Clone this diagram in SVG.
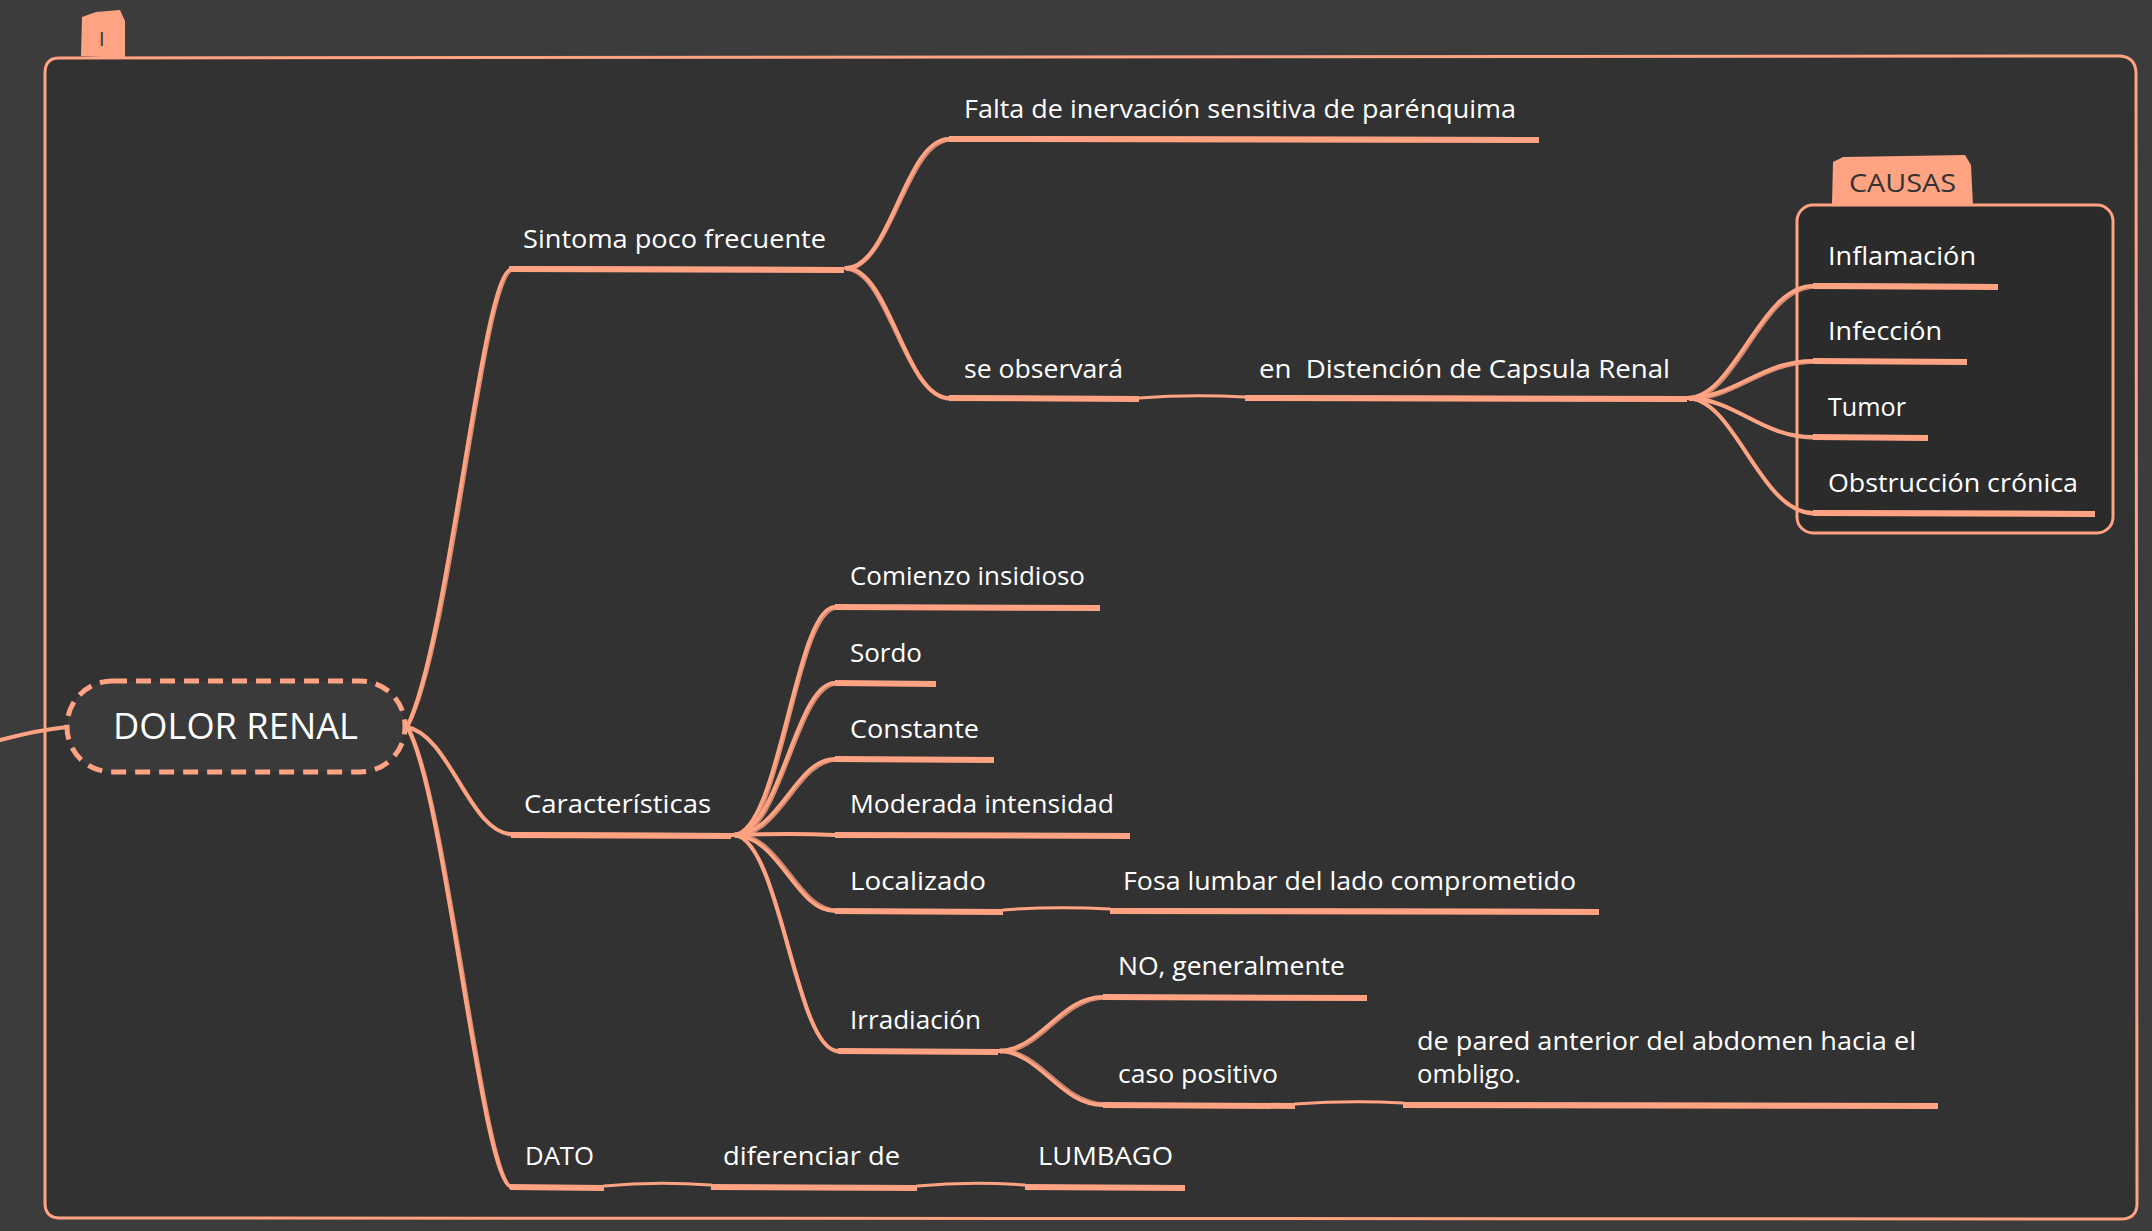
<svg xmlns="http://www.w3.org/2000/svg" width="2152" height="1231" viewBox="0 0 2152 1231">
<defs>
<style>
.lbl{font-family:"Open Sans","Liberation Sans",sans-serif;font-size:25px;fill:#ffffff;}
.ul{fill:none;stroke:#ffa383;stroke-width:6;stroke-linecap:butt;}
.ul2{fill:none;stroke:#ffa383;stroke-width:2;opacity:0.8;}
.cn{fill:none;stroke:#ffa383;stroke-width:4;stroke-linecap:round;}
.cn2{fill:none;stroke:#ffa383;stroke-width:1.5;opacity:0.8;}
.thin{fill:none;stroke:#ffa383;stroke-width:3;stroke-linecap:round;}
</style>
</defs>
<rect x="0" y="0" width="2152" height="1231" fill="#3c3c3c"/>
<g id="frame">
<path d="M59,58 L2120,56 Q2135,57 2136,72 L2137,1205 Q2136,1219 2121,1219 L60,1218 Q45,1218 45,1203 L45,73 Q45,58 59,58 Z" fill="#323232" stroke="#ffa383" stroke-width="3"/>
<path d="M82,17 L96,12 L120,10 L125,21 L125,58 L81,56 Z" fill="#ffa383"/>
<text x="99" y="46" font-family="Open Sans, Liberation Sans, sans-serif" font-size="20" fill="#333333">I</text>
</g>
<g id="n-causas">
<rect x="1797" y="205" width="316" height="328" rx="16" ry="16" fill="#2b2b2b" stroke="#ffa383" stroke-width="3"/>
<path d="M1833,162 L1843,157 L1965,155 L1971,165 L1973,206 L1832,204 Z" fill="#ffa383"/>
<text x="1849" y="192" font-family="Open Sans, Liberation Sans, sans-serif" font-size="26" fill="#333333" textLength="107" lengthAdjust="spacingAndGlyphs">CAUSAS</text>
</g>
<g id="connectors">
<path class="cn" d="M0,740 Q38,730 67,727"/>
<!-- root branches -->
<path class="cn" d="M407,727 C450,640 482,269 512,269"/>
<path class="cn2" d="M409,726 C453,642 484,271 514,270"/>
<path class="cn" d="M407,727 C450,735 470,834 512,834"/>
<path class="cn2" d="M408,729 C453,738 473,836 514,836"/>
<path class="cn" d="M407,727 C445,790 482,1187 512,1187"/>
<path class="cn2" d="M409,728 C448,792 485,1189 514,1188"/>
<!-- sintoma -->
<path class="ul" d="M509,269 L844,270"/>
<path class="ul2" d="M511,267 L840,268"/>
<path class="cn" d="M846,268 C890,268 905,139 949,139"/>
<path class="cn2" d="M846,270 C892,270 907,141 951,141"/>
<path class="cn" d="M846,268 C890,268 905,398 949,398"/>
<path class="cn2" d="M846,270 C888,272 903,400 951,400"/>
<path class="ul" d="M949,139 L1539,140"/>
<path class="ul2" d="M951,137 L1535,138"/>
<path class="ul" d="M949,398 L1139,399"/>
<path class="thin" d="M1139,398 Q1190,394 1245,397"/>
<path class="ul" d="M1245,398 L1687,399"/>
<path class="ul2" d="M1247,396 L1683,397"/>
<!-- causas -->
<path class="cn" d="M1687,398 C1735,398 1760,286 1813,286"/>
<path class="cn2" d="M1689,400 C1737,400 1762,288 1815,288"/>
<path class="cn" d="M1687,398 C1735,398 1760,361 1813,361"/>
<path class="cn2" d="M1689,400 C1737,400 1762,363 1815,363"/>
<path class="cn" d="M1687,398 C1735,398 1760,437 1813,437"/>
<path class="cn2" d="M1689,400 C1737,400 1762,439 1815,439"/>
<path class="cn" d="M1687,398 C1735,398 1760,513 1813,513"/>
<path class="cn2" d="M1689,400 C1737,400 1762,515 1815,515"/>
<path class="ul" d="M1813,286 L1998,287"/>
<path class="ul2" d="M1815,284 L1994,285"/>
<path class="ul" d="M1813,361 L1967,362"/>
<path class="ul" d="M1813,437 L1928,438"/>
<path class="ul" d="M1813,513 L2095,514"/>
<path class="ul2" d="M1815,511 L2091,512"/>
<!-- caracteristicas -->
<path class="ul" d="M511,835 L731,836"/>
<path class="ul2" d="M513,833 L727,834"/>
<path class="cn" d="M733,835 C780,835 795,607 835,607"/>
<path class="cn2" d="M735,837 C782,837 797,609 837,609"/>
<path class="cn" d="M733,835 C780,835 795,683 835,683"/>
<path class="cn2" d="M735,837 C782,837 797,685 837,685"/>
<path class="cn" d="M733,835 C780,835 795,759 835,759"/>
<path class="cn2" d="M735,837 C782,837 797,761 837,761"/>
<path class="cn" d="M733,835 Q790,833 835,835"/>
<path class="cn" d="M733,835 C780,835 795,911 835,911"/>
<path class="cn2" d="M735,833 C782,833 797,909 837,909"/>
<path class="cn" d="M733,835 C780,835 795,1051 838,1051"/>
<path class="cn2" d="M735,837 C782,837 797,1053 840,1053"/>
<path class="ul" d="M835,607 L1100,608"/>
<path class="ul" d="M835,683 L936,684"/>
<path class="ul" d="M835,759 L994,760"/>
<path class="ul" d="M835,835 L1130,836"/>
<path class="ul" d="M835,911 L1003,912"/>
<path class="thin" d="M1003,910 Q1055,906 1110,909"/>
<path class="ul" d="M1110,911 L1599,912"/>
<path class="ul2" d="M1112,909 L1595,910"/>
<!-- irradiacion -->
<path class="ul" d="M838,1051 L998,1052"/>
<path class="cn" d="M998,1051 C1040,1051 1060,997 1103,997"/>
<path class="cn2" d="M1000,1053 C1042,1053 1062,999 1105,999"/>
<path class="cn" d="M998,1051 C1040,1051 1060,1105 1103,1105"/>
<path class="cn2" d="M1000,1049 C1042,1049 1062,1103 1105,1103"/>
<path class="ul" d="M1103,997 L1367,998"/>
<path class="ul" d="M1103,1105 L1295,1106"/>
<path class="thin" d="M1295,1104 Q1350,1100 1403,1103"/>
<path class="ul" d="M1403,1105 L1938,1106"/>
<path class="ul2" d="M1405,1103 L1934,1104"/>
<!-- dato -->
<path class="ul" d="M510,1187 L604,1188"/>
<path class="thin" d="M604,1186 Q655,1181 711,1185"/>
<path class="ul" d="M711,1187 L917,1188"/>
<path class="thin" d="M917,1186 Q970,1181 1025,1185"/>
<path class="ul" d="M1025,1187 L1185,1188"/>
</g>
<g id="root">
<rect x="67" y="681" width="338" height="91" rx="45" ry="45" fill="#3a3a3a" stroke="#ffa383" stroke-width="5" stroke-dasharray="15 9"/>
<text x="113" y="739" font-family="Open Sans, Liberation Sans, sans-serif" font-size="36" fill="#ffffff" textLength="245" lengthAdjust="spacingAndGlyphs">DOLOR RENAL</text>
</g>
<g id="n-sintoma"><text class="lbl" x="523" y="248" textLength="303" lengthAdjust="spacingAndGlyphs">Sintoma poco frecuente</text></g>
<g id="n-falta"><text class="lbl" x="964" y="118" textLength="552" lengthAdjust="spacingAndGlyphs">Falta de inervación sensitiva de parénquima</text></g>
<g id="n-observara"><text class="lbl" x="964" y="378" textLength="159" lengthAdjust="spacingAndGlyphs">se observará</text></g>
<g id="n-distencion"><text class="lbl" x="1259" y="378" xml:space="preserve" textLength="411" lengthAdjust="spacingAndGlyphs">en  Distención de Capsula Renal</text></g>
<g id="n-inflamacion"><text class="lbl" x="1828" y="265" textLength="148" lengthAdjust="spacingAndGlyphs">Inflamación</text></g>
<g id="n-infeccion"><text class="lbl" x="1828" y="340" textLength="114" lengthAdjust="spacingAndGlyphs">Infección</text></g>
<g id="n-tumor"><text class="lbl" x="1828" y="416" textLength="78" lengthAdjust="spacingAndGlyphs">Tumor</text></g>
<g id="n-obstruccion"><text class="lbl" x="1828" y="492" textLength="250" lengthAdjust="spacingAndGlyphs">Obstrucción crónica</text></g>
<g id="n-caracteristicas"><text class="lbl" x="524" y="813" textLength="187" lengthAdjust="spacingAndGlyphs">Características</text></g>
<g id="n-comienzo"><text class="lbl" x="850" y="585" textLength="235" lengthAdjust="spacingAndGlyphs">Comienzo insidioso</text></g>
<g id="n-sordo"><text class="lbl" x="850" y="662" textLength="72" lengthAdjust="spacingAndGlyphs">Sordo</text></g>
<g id="n-constante"><text class="lbl" x="850" y="738" textLength="129" lengthAdjust="spacingAndGlyphs">Constante</text></g>
<g id="n-moderada"><text class="lbl" x="850" y="813" textLength="264" lengthAdjust="spacingAndGlyphs">Moderada intensidad</text></g>
<g id="n-localizado"><text class="lbl" x="850" y="890" textLength="136" lengthAdjust="spacingAndGlyphs">Localizado</text></g>
<g id="n-fosa"><text class="lbl" x="1123" y="890" textLength="453" lengthAdjust="spacingAndGlyphs">Fosa lumbar del lado comprometido</text></g>
<g id="n-irradiacion"><text class="lbl" x="850" y="1029" textLength="131" lengthAdjust="spacingAndGlyphs">Irradiación</text></g>
<g id="n-no"><text class="lbl" x="1118" y="975" textLength="227" lengthAdjust="spacingAndGlyphs">NO, generalmente</text></g>
<g id="n-caso"><text class="lbl" x="1118" y="1083" textLength="160" lengthAdjust="spacingAndGlyphs">caso positivo</text></g>
<g id="n-pared">
<text class="lbl" x="1417" y="1050" textLength="499" lengthAdjust="spacingAndGlyphs">de pared anterior del abdomen hacia el</text>
<text class="lbl" x="1417" y="1083" textLength="104" lengthAdjust="spacingAndGlyphs">ombligo.</text>
</g>
<g id="n-dato"><text class="lbl" x="525" y="1165" textLength="69" lengthAdjust="spacingAndGlyphs">DATO</text></g>
<g id="n-diferenciar"><text class="lbl" x="723" y="1165" textLength="177" lengthAdjust="spacingAndGlyphs">diferenciar de</text></g>
<g id="n-lumbago"><text class="lbl" x="1038" y="1165" textLength="135" lengthAdjust="spacingAndGlyphs">LUMBAGO</text></g>
</svg>
